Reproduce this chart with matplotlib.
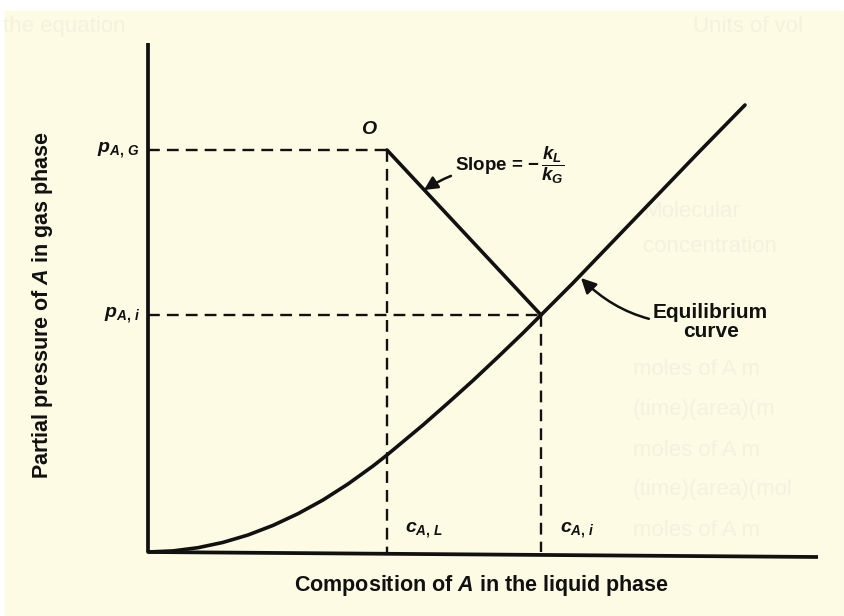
import numpy as np
import matplotlib.pyplot as plt

plt.rcParams['font.family'] = ['Liberation Sans', 'DejaVu Sans']
plt.rcParams['mathtext.fontset'] = 'custom'
plt.rcParams['mathtext.it'] = 'Liberation Sans:italic:bold'
plt.rcParams['mathtext.rm'] = 'Liberation Sans:bold'
plt.rcParams['mathtext.bf'] = 'Liberation Sans:bold'

# equilibrium curve, composition c_A vs partial pressure p_A (arbitrary units)
curve_c = [0.0, 0.25, 0.5, 0.75, 1.0, 1.25, 1.5, 1.75, 2.0, 2.25, 2.39,
           2.75, 3.0, 3.25, 3.5, 3.75, 3.93, 4.25, 4.5, 5.0, 5.5, 5.97]
curve_p = [0.0, 0.011, 0.043, 0.096, 0.17, 0.266, 0.383, 0.52, 0.68, 0.86, 0.97,
           1.27, 1.49, 1.715, 1.95, 2.19, 2.37, 2.69, 2.95, 3.47, 3.99, 4.47]

# bulk state O and interface state i
c_AL, p_AG = 2.39, 4.02
c_Ai, p_Ai = 3.93, 2.37

axis_x_end = 6.70
axis_y_end = 5.09

ink = '#111111'
paper = '#fdfbe4'
ghost = '#f4f2dc'

fig = plt.figure(figsize=(8.45, 6.16), dpi=100, facecolor='white')
ax = fig.add_axes([0, 0, 1, 1])
ax.set_xlim(-1.48, 6.97)
ax.set_ylim(-0.64, 5.52)
ax.axis('off')

# scanned page area
ax.add_patch(plt.Rectangle((-1.43, -0.64), 8.5, 6.05, color=paper, zorder=0))

# faint print showing through from the other side of the page
ghost_rows = [('the equation', -1.45, 5.25), ('Units of vol', 5.45, 5.25),
              ('Molecular', 4.95, 3.40), ('concentration', 4.95, 3.05),
              ('moles of A m', 4.85, 1.82), ('(time)(area)(m', 4.85, 1.42),
              ('moles of A m', 4.85, 1.02), ('(time)(area)(mol', 4.85, 0.62),
              ('moles of A m', 4.85, 0.22)]
for txt, gx, gy in ghost_rows:
    ax.text(gx, gy, txt, color=ghost, fontsize=16, ha='left', va='center', zorder=0.5)

# axes drawn as heavy lines
ax.plot([0, 0], [0, axis_y_end], color=ink, lw=2.7, solid_capstyle='butt')
ax.plot([0, axis_x_end], [0, -0.05], color=ink, lw=2.7, solid_capstyle='butt')

# equilibrium curve
ax.plot(curve_c, curve_p, color=ink, lw=2.6, solid_capstyle='round', solid_joinstyle='round')

# operating line from O to the interface point
ax.plot([c_AL, c_Ai], [p_AG, p_Ai], color=ink, lw=2.6, solid_capstyle='round')

# dashed construction lines
dash = dict(color=ink, lw=1.7, dashes=(5, 3))
ax.plot([0, c_AL], [p_AG, p_AG], **dash)
ax.plot([c_AL, c_AL], [p_AG, 0], **dash)
ax.plot([0, c_Ai], [p_Ai, p_Ai], **dash)
ax.plot([c_Ai, c_Ai], [p_Ai, 0], **dash)

lab = dict(color=ink, fontsize=14)
ax.text(-0.08, p_AG, r'$p_{A,\,G}$', ha='right', va='center', **lab)
ax.text(-0.08, p_Ai, r'$p_{A,\,i}$', ha='right', va='center', **lab)
ax.text(c_AL - 0.18, p_AG + 0.2, r'$O$', ha='center', va='center', **lab)
ax.text(c_AL + 0.18, 0.22, r'$c_{A,\,L}$', ha='left', va='center', **lab)
ax.text(c_Ai + 0.19, 0.22, r'$c_{A,\,i}$', ha='left', va='center', **lab)

ax.annotate(r'Slope = $-\,\dfrac{k_L}{k_G}$', xy=(2.76, 3.62), xytext=(3.07, 3.87),
            ha='left', va='center', color=ink, fontsize=13.5, fontweight='bold',
            arrowprops=dict(arrowstyle='-|>,head_length=0.6,head_width=0.3', color=ink,
                            lw=1.8, shrinkA=1, shrinkB=0,
                            connectionstyle='arc3,rad=0.15'))

ax.annotate('Equilibrium\ncurve', xy=(4.33, 2.74), xytext=(5.05, 2.30),
            ha='left', va='center', multialignment='center', color=ink,
            fontsize=15, fontweight='bold', linespacing=1.05,
            arrowprops=dict(arrowstyle='-|>,head_length=0.6,head_width=0.3', color=ink,
                            lw=1.8, shrinkA=1, shrinkB=0,
                            connectionstyle='arc3,rad=-0.25'))

ax.text(3.34, -0.33, 'Composition of $A$ in the liquid phase', ha='center', va='center',
        color=ink, fontsize=15.5, fontweight='bold')
ax.text(-1.05, 2.47, 'Partial pressure of $A$ in gas phase', ha='center', va='center',
        rotation=90, color=ink, fontsize=15.5, fontweight='bold')

fig.savefig('out.png', dpi=100, facecolor=fig.get_facecolor())
